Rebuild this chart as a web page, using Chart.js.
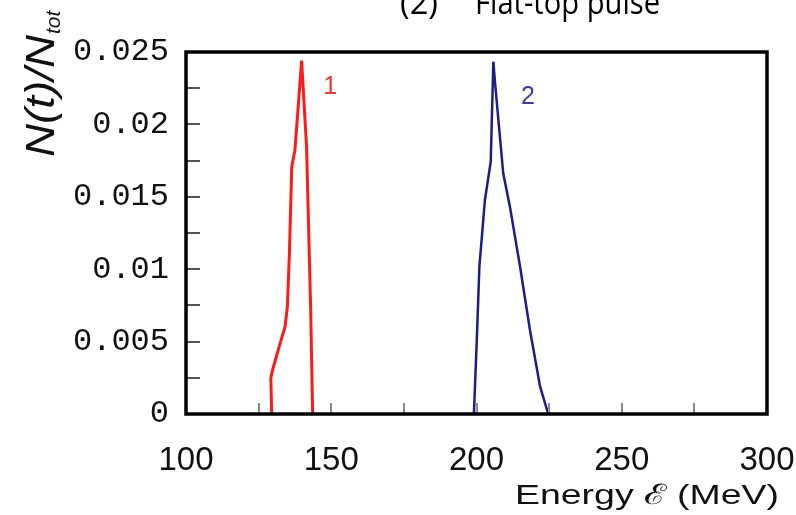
<!DOCTYPE html>
<html>
<head>
<meta charset="utf-8">
<script src="https://cdn.jsdelivr.net/npm/chart.js@4.4.0/dist/chart.umd.min.js"></script>
<style>
html,body{margin:0;padding:0;background:#fff;}
#wrap{width:796px;height:515px;position:relative;}
</style>
</head>
<body>
<div id="wrap"><canvas id="c" width="796" height="515"></canvas></div>
<script>
// ---- data ----
const xTicks = [100, 150, 200, 250, 300];
const yTicks = [0, 0.005, 0.01, 0.015, 0.02, 0.025];
const yTickLabels = ['0', '0.005', '0.01', '0.015', '0.02', '0.025'];

const curve1E = [129.5, 129.2, 129.8, 132.4, 134.1, 134.9, 135.6, 136.4, 137.5, 139.8, 141.5, 142.9, 143.6];
const curve1N = [0, 0.00246, 0.00304, 0.00488, 0.00603, 0.00741, 0.0111, 0.01708, 0.01823, 0.0244, 0.01846, 0.00741, 0];

const curve2E = [199.1, 200.1, 201.0, 202.9, 204.9, 205.8, 206.4, 209.2, 211.5, 215.0, 218.4, 221.9, 224.7];
const curve2N = [0, 0.00511, 0.0102, 0.01478, 0.01742, 0.02433, 0.02284, 0.01662, 0.01432, 0.01017, 0.0058, 0.00189, 0];

const curveLabels = ['1', '2'];
const titleNum = '(2)';
const titleText = 'Flat-top pulse';
const xTitleText = 'Energy \u2130 (MeV)';
const yTitleMain = 'N(t)/N';
const yTitleSub = 'tot';

function pts(xs, ys){ return xs.map((x,i)=>({x:x, y:ys[i]})); }

const RED = '#ff1a1a';
const BLUE = '#1c1c8e';

function fitText(ctx, text, x, y, font, width, align){
  ctx.save();
  ctx.font = font;
  const m = ctx.measureText(text).width;
  ctx.translate(x, y);
  ctx.scale(width / m, 1);
  ctx.textAlign = align; ctx.textBaseline = 'alphabetic';
  ctx.fillText(text, 0, 0);
  ctx.restore();
}

const decor = {
  id:'decor',
  afterDatasetsDraw(chart){
    const ctx = chart.ctx, a = chart.chartArea;
    const xs = chart.scales.x, ys = chart.scales.y;
    ctx.save();
    // inner ticks (bottom and left only)
    ctx.strokeStyle = '#8a8a8a';
    ctx.lineWidth = 2;
    for (let v = 125; v < 300; v += 25){
      const px = Math.round(xs.getPixelForValue(v));
      ctx.beginPath(); ctx.moveTo(px, a.bottom); ctx.lineTo(px, a.bottom - 11); ctx.stroke();
    }
    ctx.strokeStyle = '#555';
    for (let k = 1; k < 10; k++){
      const py = Math.round(ys.getPixelForValue(k*0.0025));
      ctx.beginPath(); ctx.moveTo(a.left, py); ctx.lineTo(a.left + 14, py); ctx.stroke();
    }
    // frame
    ctx.strokeStyle = '#000';
    ctx.lineWidth = 3.5;
    ctx.strokeRect(a.left, a.top, a.right - a.left, a.bottom - a.top);
    // curve labels
    ctx.font = '25px "Liberation Sans", Arial, sans-serif';
    ctx.textAlign = 'center'; ctx.textBaseline = 'middle';
    ctx.fillStyle = '#e83a3a';
    ctx.fillText(curveLabels[0], xs.getPixelForValue(149.6), ys.getPixelForValue(0.0226));
    ctx.fillStyle = '#3c3c9e';
    ctx.fillText(curveLabels[1], xs.getPixelForValue(217.7), ys.getPixelForValue(0.0219));
    ctx.restore();
  },
  afterDraw(chart){
    const ctx = chart.ctx;
    ctx.save();
    ctx.fillStyle = '#000';
    // top title (cut off at top)
    fitText(ctx, titleNum, 400, 14, '32px "Open Sans", "Noto Sans", sans-serif', 38, 'left');
    fitText(ctx, titleText, 475, 14, '32px "Open Sans", "Noto Sans", sans-serif', 185, 'left');
    // x title
    ctx.fillStyle = '#111';
    fitText(ctx, xTitleText, 779, 504, '28px "Liberation Sans", Arial, sans-serif', 264, 'right');
    // y title rotated
    ctx.save();
    ctx.translate(54, 157);
    ctx.rotate(-Math.PI/2);
    ctx.textAlign = 'left'; ctx.textBaseline = 'alphabetic';
    ctx.font = 'italic 40px "Liberation Sans", Arial, sans-serif';
    const w = ctx.measureText(yTitleMain).width;
    const L = 122;
    ctx.save();
    ctx.scale(L / w, 1);
    ctx.fillText(yTitleMain, 0, 0);
    ctx.restore();
    ctx.font = 'italic 21px "Liberation Sans", Arial, sans-serif';
    ctx.fillText(yTitleSub, L + 1, 6);
    ctx.restore();
    ctx.restore();
  }
};

new Chart(document.getElementById('c'), {
  type: 'scatter',
  data: {
    datasets: [
      { data: pts(curve1E, curve1N), showLine: true, borderColor: RED, borderWidth: 3, pointRadius: 0, tension: 0, clip: false },
      { data: pts(curve2E, curve2N), showLine: true, borderColor: BLUE, borderWidth: 2.5, pointRadius: 0, tension: 0, clip: false }
    ]
  },
  options: {
    responsive: false,
    animation: false,
    layout: { padding: { top: 52, right: 29, left: 0, bottom: 0 } },
    plugins: { legend: { display: false }, tooltip: { enabled: false }, title: { display: false } },
    scales: {
      x: {
        type: 'linear', min: 100, max: 300,
        afterBuildTicks(s){ s.ticks = xTicks.map(v=>({value:v})); },
        afterFit(s){ s.height = 101; s.paddingLeft = 0; s.paddingRight = 0; },
        grid: { display: false, drawTicks: false },
        border: { display: false },
        ticks: { color: '#111', padding: 27, maxRotation: 0, font: { family: '"Liberation Sans", Arial, sans-serif', size: 33 } }
      },
      y: {
        type: 'linear', min: 0, max: 0.025,
        afterBuildTicks(s){ s.ticks = yTicks.map(v=>({value:v})); },
        afterFit(s){ s.width = 186; s.paddingTop = 0; s.paddingBottom = 0; },
        grid: { display: false, drawTicks: false },
        border: { display: false },
        ticks: {
          color: '#111', padding: 17,
          font: { family: '"Liberation Mono", "DejaVu Sans Mono", monospace', size: 32 },
          callback(v){ const i = yTicks.indexOf(v); return i >= 0 ? yTickLabels[i] : ''; }
        }
      }
    }
  },
  plugins: [decor]
});
</script>
</body>
</html>
